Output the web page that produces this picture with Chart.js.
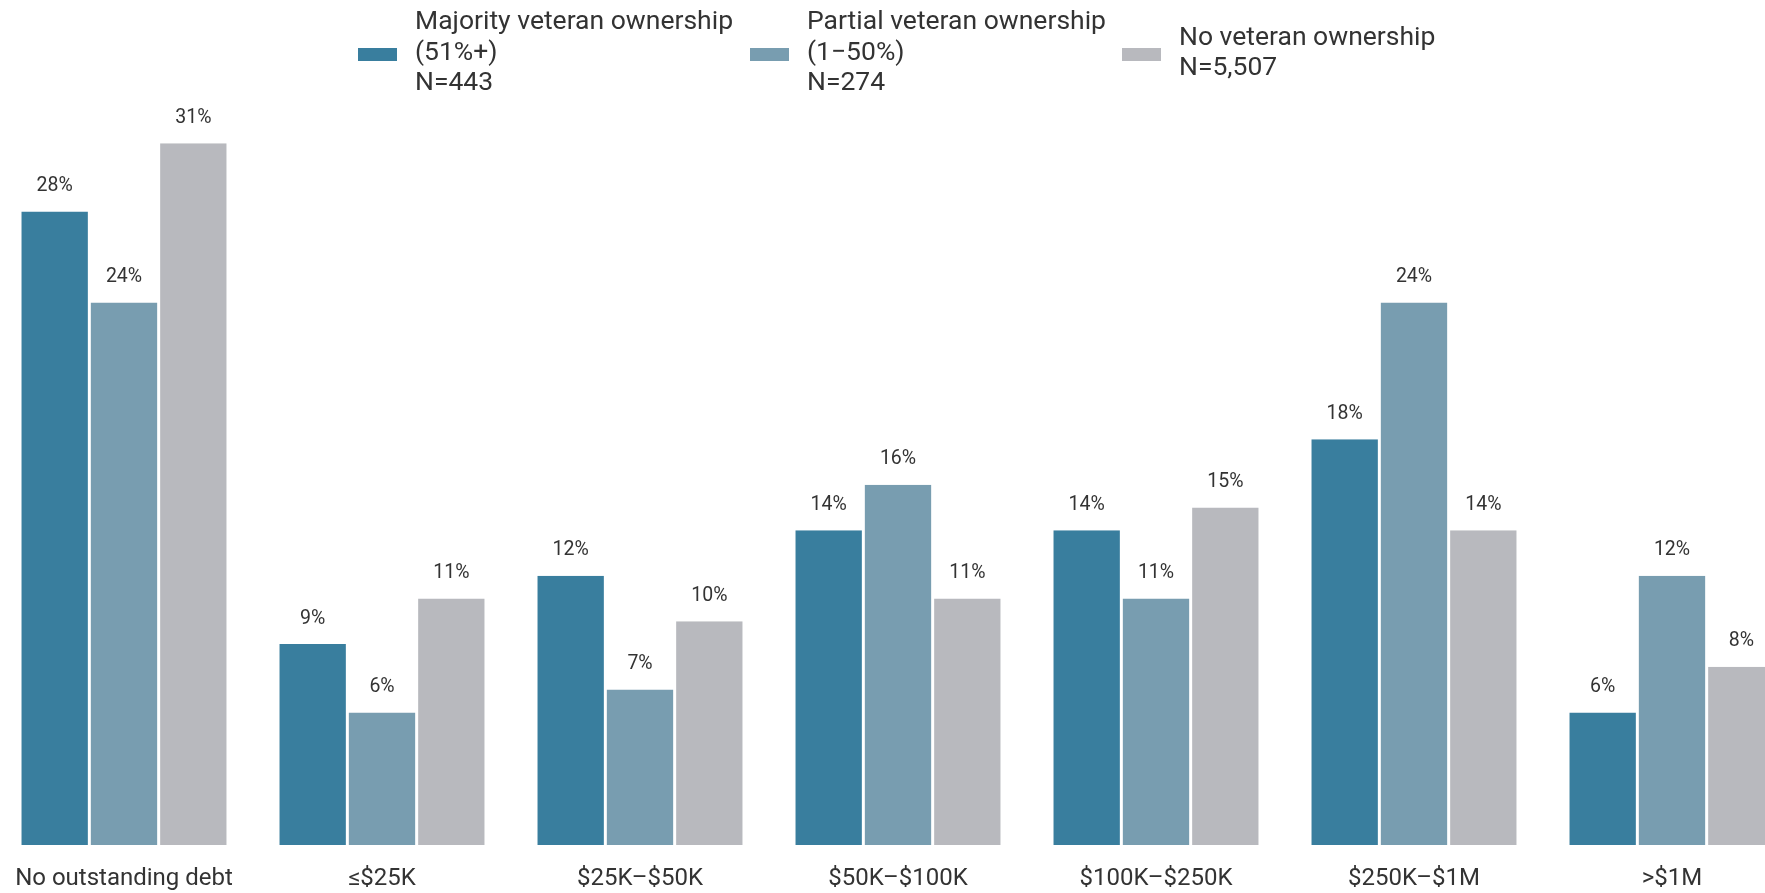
<!DOCTYPE html>
<html>
<head>
<meta charset="utf-8">
<script src="https://cdn.jsdelivr.net/npm/chart.js@4.4.1/dist/chart.umd.min.js"></script>
<style>
  html, body { margin: 0; padding: 0; background: #fff; overflow: hidden; }
  body { width: 1765px; height: 893px; position: relative; font-family: Roboto, sans-serif; color: #333; }
  #wrap { position: absolute; left: -5.5px; top: 0; width: 1806px; height: 893px; }
  .legend-item { position: absolute; top: -1px; height: 104px; display: flex; align-items: center; }
  .legend-box { width: 39px; height: 13px; margin-top: 7px; margin-right: 18px; flex: none; }
  .legend-text { font-size: 26.5px; line-height: 30.5px; white-space: nowrap; color: #333; }
</style>
</head>
<body>
<div id="wrap"><canvas id="myBarChart"></canvas></div>
<div id="legend"></div>
<script>
// カテゴリ（負債額）
var categories = ["No outstanding debt", "≤$25K", "$25K–$50K", "$50K–$100K", "$100K–$250K", "$250K–$1M", ">$1M"];
// 系列
var seriesNames = [
    ["Majority veteran ownership", "(51%+)", "N=443"],
    ["Partial veteran ownership", "(1−50%)", "N=274"],
    ["No veteran ownership", "N=5,507"]
];
var majorityValues = [28, 9, 12, 14, 14, 18, 6];
var partialValues = [24, 6, 7, 16, 11, 24, 12];
var noneValues = [31, 11, 10, 11, 15, 14, 8];
var seriesColors = ["#397e9e", "#789db0", "#b8b9be"];
var legendLeft = [358, 750, 1122];

// 凡例（HTML）
var legend = document.getElementById("legend");
seriesNames.forEach(function (lines, i) {
    var item = document.createElement("div");
    item.className = "legend-item";
    item.style.left = legendLeft[i] + "px";
    var box = document.createElement("div");
    box.className = "legend-box";
    box.style.background = seriesColors[i];
    var text = document.createElement("div");
    text.className = "legend-text";
    text.innerHTML = lines.join("<br>");
    item.appendChild(box);
    item.appendChild(text);
    legend.appendChild(item);
});

// 棒の上に値を表示
var valueLabels = {
    id: "valueLabels",
    afterDatasetsDraw: function (chart) {
        var ctx = chart.ctx;
        ctx.save();
        ctx.font = "19.5px Roboto";
        ctx.fillStyle = "#333";
        ctx.textAlign = "center";
        ctx.textBaseline = "alphabetic";
        chart.data.datasets.forEach(function (ds, i) {
            chart.getDatasetMeta(i).data.forEach(function (bar, j) {
                ctx.fillText(ds.data[j] + "%", bar.x, bar.y - 20.5);
            });
        });
        ctx.restore();
    }
};

function makeDataset(label, data, color) {
    return {
        label: label,
        data: data,
        backgroundColor: color,
        borderColor: "#fff",
        borderWidth: { left: 1.5, right: 1.5, top: 0, bottom: 4 },
        borderSkipped: false,
        categoryPercentage: 0.806,
        barPercentage: 1
    };
}

var ctx = document.getElementById("myBarChart");
var myBarChart = new Chart(ctx, {
    type: "bar",
    data: {
        labels: categories,
        datasets: [
            makeDataset(seriesNames[0].join(" "), majorityValues, seriesColors[0]),
            makeDataset(seriesNames[1].join(" "), partialValues, seriesColors[1]),
            makeDataset(seriesNames[2].join(" "), noneValues, seriesColors[2])
        ]
    },
    options: {
        responsive: true,
        maintainAspectRatio: false,
        animation: false,
        layout: { padding: { top: 97.6, left: 0, right: 0, bottom: 0 } },
        plugins: {
            legend: { display: false },
            tooltip: { enabled: false }
        },
        scales: {
            x: {
                grid: { display: false, drawTicks: false },
                border: { display: false },
                ticks: {
                    color: "#333",
                    font: { family: "Roboto", size: 24 },
                    padding: 16,
                    maxRotation: 0,
                    autoSkip: false
                },
                afterFit: function (scale) { scale.height = 44; }
            },
            y: {
                display: false,
                min: 0,
                max: 33
            }
        }
    },
    plugins: [valueLabels]
});
</script>
</body>
</html>
